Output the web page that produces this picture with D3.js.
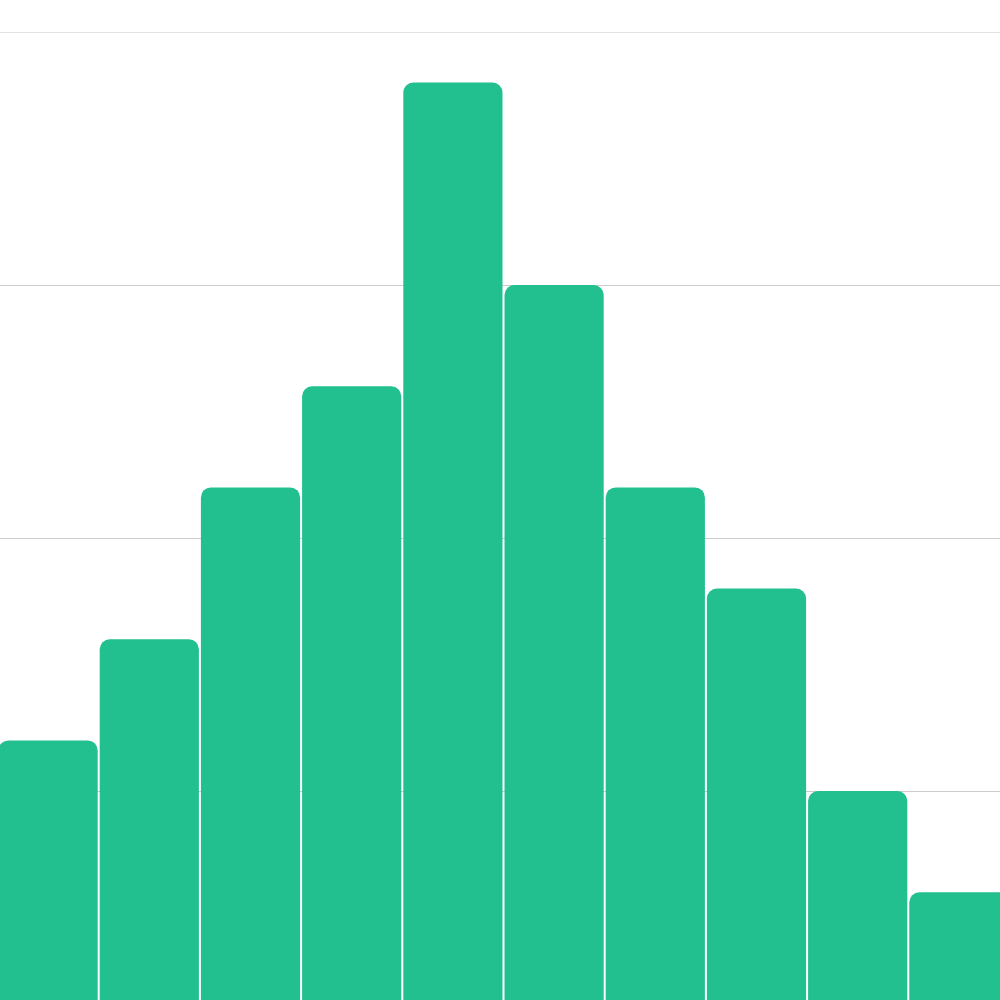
<!DOCTYPE html>
<html>
<head>
<meta charset="utf-8">
<script src="https://cdn.jsdelivr.net/npm/d3@7"></script>
<style>
html,body{margin:0;padding:0;background:#fff;overflow:hidden;}
svg{display:block;}
</style>
</head>
<body>
<svg id="chart" width="1000" height="1000"></svg>
<script>
const bins = [0,1,2,3,4,5,6,7,8,9];
const counts = [6,8,11,13,19,15,11,9,5,3];
const yTicks = [5,10,15,20];

const svg = d3.select("#chart");
const x = d3.scaleLinear().domain([0,10]).range([-2.5, 1009.5]);
const y = d3.scaleLinear().domain([0,20]).range([1044, 32]);

// gridlines
svg.append("g").selectAll("line").data(yTicks).join("line")
  .attr("x1",0).attr("x2",1000)
  .attr("y1",d=>Math.round(y(d))+0.5).attr("y2",d=>Math.round(y(d))+0.5)
  .attr("stroke",d=>d===20?"#e2e2e2":"#cccccc")
  .attr("stroke-width",1);

const r = 10;
function barPath(d,i){
  const x0 = x(bins[i])+1, x1 = x(bins[i]+1)-1;
  const top = y(d), bottom = y(0);
  return `M${x0},${bottom}V${top+r}A${r},${r} 0 0 1 ${x0+r},${top}H${x1-r}A${r},${r} 0 0 1 ${x1},${top+r}V${bottom}Z`;
}
svg.append("g").selectAll("path").data(counts).join("path")
  .attr("d",barPath)
  .attr("fill","#22bf8f");
</script>
</body>
</html>
